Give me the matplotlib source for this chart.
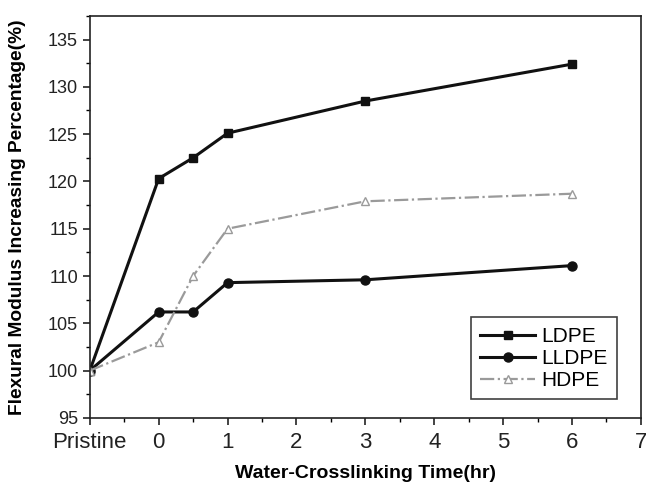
import matplotlib
matplotlib.use("Agg")
import matplotlib.pyplot as plt
from matplotlib.ticker import MultipleLocator

plt.rcParams['font.family'] = ['Liberation Sans', 'DejaVu Sans']

x = [-1, 0, 0.5, 1, 3, 6]
ldpe = [100, 120.3, 122.5, 125.1, 128.5, 132.4]
lldpe = [100, 106.2, 106.2, 109.3, 109.6, 111.1]
hdpe = [100, 103.0, 110.0, 115.0, 117.9, 118.7]
xticks = [-1, 0, 1, 2, 3, 4, 5, 6, 7]
xticklabels = ['Pristine', '0', '1', '2', '3', '4', '5', '6', '7']
yticks = [95, 100, 105, 110, 115, 120, 125, 130, 135]

fig = plt.figure(figsize=(6.46, 4.82), dpi=100)
ax = fig.add_axes([0.139, 0.133, 0.853, 0.834])

ax.plot(x, ldpe, color='#111111', lw=2.2, marker='s', ms=6, label='LDPE')
ax.plot(x, lldpe, color='#111111', lw=2.2, marker='o', ms=6.5, label='LLDPE')
ax.plot(x, hdpe, color='#9a9a9a', lw=1.6, ls='-.', marker='^', ms=6,
        mfc='white', mec='#9a9a9a', label='HDPE')

ax.set_xlim(-1, 7)
ax.set_ylim(95, 137.5)
ax.set_xticks(xticks)
ax.set_xticklabels(xticklabels)
ax.set_yticks(yticks)
ax.xaxis.set_minor_locator(MultipleLocator(0.5))
ax.yaxis.set_minor_locator(MultipleLocator(2.5))
ax.tick_params(axis='both', which='major', direction='out', length=5, width=1.2, colors='#222222')
ax.tick_params(axis='y', which='major', labelsize=13)
ax.tick_params(axis='x', which='major', labelsize=16, pad=5)
ax.tick_params(axis='both', which='minor', direction='out', length=3, width=1.0)
for s in ax.spines.values():
    s.set_linewidth(1.2)
    s.set_color('#222222')

ax.set_ylabel('Flexural Modulus Increasing Percentage(%)', fontsize=13.8, fontweight='bold')
ax.yaxis.set_label_coords(-0.115, 0.5)
ax.set_xlabel('Water-Crosslinking Time(hr)', fontsize=14, fontweight='bold')
ax.xaxis.set_label_coords(0.5, -0.118)

leg = ax.legend(loc='lower right', bbox_to_anchor=(0.975, 0.02), fontsize=15, frameon=True,
                fancybox=False, edgecolor='#111111', handlelength=2.6, borderpad=0.45,
                labelspacing=0.15, handletextpad=0.3)
leg.get_frame().set_linewidth(1.2)

fig.savefig('out.png', dpi=100)
